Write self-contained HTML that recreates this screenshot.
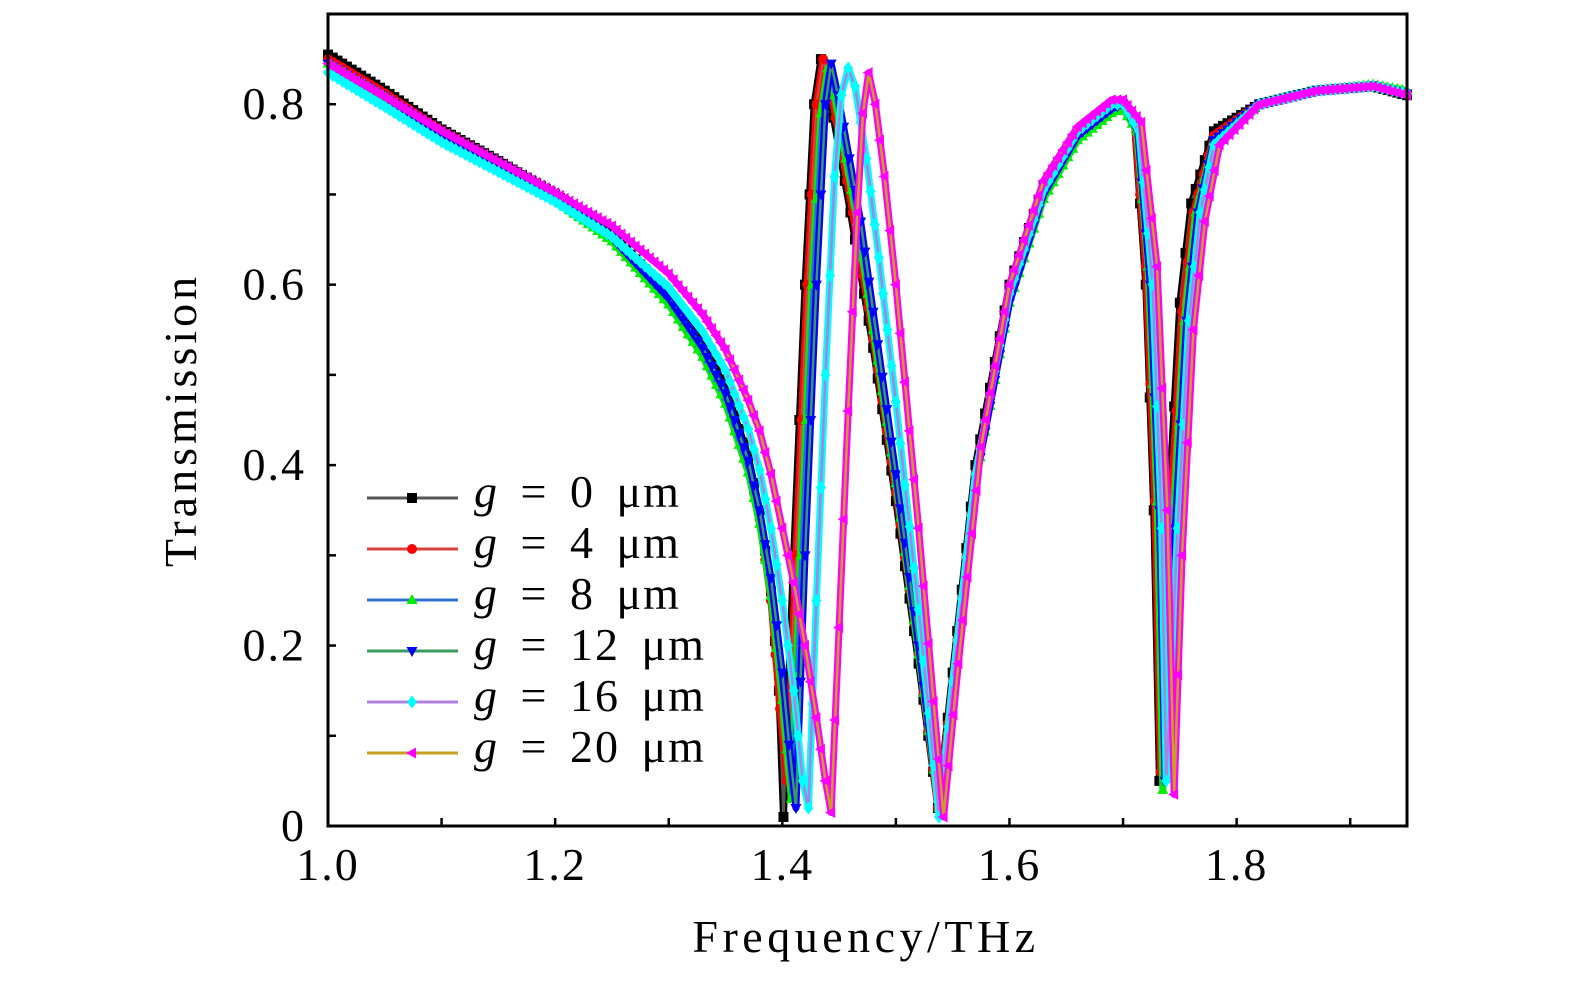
<!DOCTYPE html>
<html><head><meta charset="utf-8"><style>
html,body{margin:0;padding:0;background:#fff;}
svg text{font-family:"Liberation Serif",serif;fill:#000;}
</style></head><body>
<svg id="chart" width="1575" height="980" xmlns="http://www.w3.org/2000/svg">
<g id="series-layer"></g>
<rect x="328" y="14" width="1079" height="812" fill="none" stroke="#000" stroke-width="3"/>
<g id="axes-layer"></g>
<text x="866" y="952" font-size="46" text-anchor="middle" letter-spacing="4.5">Frequency/THz</text>
<text transform="translate(196,420) rotate(-90)" font-size="46" text-anchor="middle" letter-spacing="4">Transmission</text>
<g id="legend"></g>
</svg>
<script>
const xTicks=[1.0,1.2,1.4,1.6,1.8];
const xTickLabels=["1.0","1.2","1.4","1.6","1.8"];
const yTicks=[0,0.2,0.4,0.6,0.8];
const yTickLabels=["0","0.2","0.4","0.6","0.8"];
const seriesNames=["g = 0 μm","g = 4 μm","g = 8 μm","g = 12 μm","g = 16 μm","g = 20 μm"];
const s0=[[1.00,.855],[1.05,.815],[1.10,.772],[1.15,.737],[1.20,.700],[1.25,.655],[1.30,.590],[1.33,.535],[1.35,.485],[1.37,.410],[1.38,.350],[1.39,.260],[1.397,.150],[1.401,.01],[1.41,.30],[1.42,.60],[1.428,.80],[1.434,.85],[1.44,.82],[1.45,.75],[1.46,.68],[1.48,.53],[1.50,.36],[1.52,.18],[1.537,.02],[1.55,.17],[1.57,.40],[1.60,.60],[1.63,.71],[1.66,.77],[1.69,.80],[1.70,.80],[1.71,.78],[1.72,.60],[1.727,.35],[1.732,.05],[1.74,.35],[1.75,.58],[1.76,.69],[1.78,.77],[1.82,.80],[1.87,.815],[1.92,.82],[1.95,.81]];
const s1=[[1.00,.850],[1.05,.812],[1.10,.770],[1.15,.735],[1.20,.698],[1.25,.652],[1.30,.585],[1.33,.528],[1.35,.475],[1.37,.398],[1.38,.340],[1.39,.250],[1.398,.130],[1.404,.05],[1.412,.30],[1.422,.60],[1.430,.80],[1.436,.85],[1.442,.82],[1.452,.75],[1.462,.68],[1.48,.54],[1.50,.37],[1.52,.19],[1.537,.02],[1.55,.16],[1.57,.39],[1.60,.59],[1.63,.70],[1.66,.765],[1.69,.795],[1.70,.80],[1.71,.78],[1.72,.62],[1.728,.36],[1.733,.06],[1.742,.35],[1.752,.57],[1.762,.68],[1.78,.765],[1.82,.80],[1.87,.815],[1.92,.82],[1.95,.812]];
const s2=[[1.00,.845],[1.05,.808],[1.10,.766],[1.15,.731],[1.20,.694],[1.25,.648],[1.30,.578],[1.33,.520],[1.35,.468],[1.37,.392],[1.38,.335],[1.39,.255],[1.40,.140],[1.408,.03],[1.416,.30],[1.426,.60],[1.434,.79],[1.440,.84],[1.446,.81],[1.456,.74],[1.466,.67],[1.48,.55],[1.50,.38],[1.52,.19],[1.538,.02],[1.55,.15],[1.57,.38],[1.60,.58],[1.63,.695],[1.66,.76],[1.69,.79],[1.70,.795],[1.712,.77],[1.722,.62],[1.730,.36],[1.735,.04],[1.744,.33],[1.754,.56],[1.764,.68],[1.78,.76],[1.82,.80],[1.87,.815],[1.92,.822],[1.95,.815]];
const s3=[[1.00,.845],[1.05,.808],[1.10,.767],[1.15,.732],[1.20,.696],[1.25,.652],[1.30,.585],[1.33,.530],[1.35,.480],[1.37,.405],[1.38,.350],[1.39,.275],[1.40,.170],[1.406,.09],[1.412,.02],[1.420,.30],[1.430,.60],[1.438,.80],[1.443,.845],[1.449,.81],[1.459,.74],[1.469,.67],[1.48,.57],[1.50,.39],[1.52,.20],[1.538,.02],[1.55,.15],[1.57,.38],[1.60,.58],[1.63,.70],[1.66,.765],[1.69,.795],[1.70,.80],[1.713,.77],[1.724,.60],[1.732,.35],[1.737,.05],[1.746,.33],[1.756,.56],[1.766,.68],[1.78,.76],[1.82,.80],[1.87,.815],[1.92,.82],[1.95,.812]];
const s4=[[1.00,.835],[1.05,.797],[1.10,.758],[1.15,.725],[1.20,.692],[1.25,.653],[1.30,.597],[1.33,.548],[1.35,.505],[1.37,.440],[1.38,.395],[1.39,.330],[1.40,.250],[1.41,.150],[1.418,.05],[1.423,.02],[1.430,.25],[1.438,.50],[1.446,.72],[1.452,.81],[1.458,.84],[1.464,.82],[1.474,.74],[1.485,.63],[1.50,.47],[1.52,.24],[1.538,.01],[1.55,.16],[1.57,.39],[1.60,.59],[1.63,.705],[1.66,.77],[1.69,.80],[1.70,.80],[1.714,.77],[1.726,.60],[1.734,.33],[1.738,.05],[1.748,.33],[1.758,.56],[1.768,.68],[1.78,.755],[1.82,.80],[1.87,.815],[1.92,.82],[1.95,.812]];
const s5=[[1.00,.845],[1.05,.808],[1.10,.770],[1.15,.736],[1.20,.702],[1.25,.665],[1.30,.612],[1.33,.567],[1.35,.528],[1.37,.472],[1.38,.438],[1.39,.390],[1.40,.330],[1.41,.270],[1.42,.200],[1.43,.120],[1.438,.05],[1.443,.015],[1.450,.22],[1.458,.46],[1.466,.68],[1.471,.79],[1.476,.835],[1.482,.80],[1.490,.72],[1.50,.60],[1.52,.33],[1.542,.01],[1.555,.18],[1.575,.42],[1.60,.60],[1.63,.715],[1.66,.775],[1.69,.805],[1.70,.805],[1.716,.78],[1.730,.62],[1.739,.35],[1.745,.035],[1.752,.30],[1.762,.55],[1.772,.67],[1.785,.755],[1.82,.80],[1.87,.815],[1.92,.82],[1.95,.81]];
const allSeries=[s0,s1,s2,s3,s4,s5];
const lineColors=["#555555","#d94040","#3070d0","#3a9a60","#b080e0","#c8a020"];
const markerColors=["#000000","#ff0000","#00ee00","#0000ff","#00ffff","#ff00ff"];
const markerShapes=["square","circle","up","down","diamond","left"];

const X0=328,X1=1407,Y0=826,Y1=14,XMIN=1.0,XMAX=1.95,YMIN=0,YMAX=0.9;
function xs(v){return X0+(v-XMIN)/(XMAX-XMIN)*(X1-X0);}
function ys(v){return Y0-(v-YMIN)/(YMAX-YMIN)*(Y0-Y1);}
const NS="http://www.w3.org/2000/svg";
function mk(tag,attrs,parent){const e=document.createElementNS(NS,tag);for(const k in attrs)e.setAttribute(k,attrs[k]);parent.appendChild(e);return e;}
function marker(shape,cx,cy,r,color,parent){
  let e;
  if(shape==="square")e=mk("rect",{x:cx-r,y:cy-r,width:2*r,height:2*r,fill:color},parent);
  else if(shape==="circle")e=mk("circle",{cx:cx,cy:cy,r:r,fill:color},parent);
  else{
    let p;
    if(shape==="up")p=[[cx,cy-r*1.2],[cx-r*1.1,cy+r*0.8],[cx+r*1.1,cy+r*0.8]];
    else if(shape==="down")p=[[cx,cy+r*1.2],[cx-r*1.1,cy-r*0.8],[cx+r*1.1,cy-r*0.8]];
    else if(shape==="diamond")p=[[cx,cy-r*1.3],[cx+r,cy],[cx,cy+r*1.3],[cx-r,cy]];
    else p=[[cx-r*1.2,cy],[cx+r*0.8,cy-r*1.1],[cx+r*0.8,cy+r*1.1]];
    e=mk("polygon",{points:p.map(q=>q.join(",")).join(" "),fill:color},parent);
  }
  return e;
}
const sl=document.getElementById("series-layer");
allSeries.forEach((s,i)=>{
  const g=mk("g",{},sl);
  
  
  const px=s.map(p=>[xs(p[0]),ys(p[1])]);
  const pts=px.map(p=>p.join(",")).join(" ");
  const band=mk("polyline",{points:pts,fill:"none",stroke:markerColors[i],"stroke-width":7,"stroke-linejoin":"round"},g);
  
  
  const ln=mk("polyline",{points:pts,fill:"none",stroke:lineColors[i],"stroke-width":2.5},g);
  
  
  // decorative markers along the drawn path (horizontal spacing ~4.7px like the dense sampling)
  for(let k=0;k<px.length-1;k++){
    const a=px[k],b=px[k+1];
    const n=Math.max(1,Math.round((b[0]-a[0])/4.7));
    for(let j=0;j<n;j++){
      const t=j/n;
      const m=marker(markerShapes[i],a[0]+(b[0]-a[0])*t,a[1]+(b[1]-a[1])*t,5,markerColors[i],g);
      
      
    }
  }
  const last=px[px.length-1];
  const m=marker(markerShapes[i],last[0],last[1],5,markerColors[i],g);
  
  
});
const ax=document.getElementById("axes-layer");
for(let v=1.0;v<=1.951;v+=0.1){
  const t=mk("line",{x1:xs(v),x2:xs(v),y1:Y0,y2:Y0-8,stroke:"#000","stroke-width":2.5},ax);
  
  
}
for(let v=0.1;v<=0.851;v+=0.1){
  const t=mk("line",{x1:X0,x2:X0+8,y1:ys(v),y2:ys(v),stroke:"#000","stroke-width":2.5},ax);
  
  
}
xTicks.forEach((v,i)=>{
  const t=mk("text",{x:xs(v),y:880,"font-size":46,"text-anchor":"middle","letter-spacing":"2"},ax);
  t.textContent=xTickLabels[i];
  
  
});
yTicks.forEach((v,i)=>{
  const t=mk("text",{x:306,y:ys(v)+15,"font-size":46,"text-anchor":"end","letter-spacing":"2"},ax);
  t.textContent=yTickLabels[i];
  
  
});
const lg=document.getElementById("legend");
seriesNames.forEach((n,i)=>{
  const y=498+i*51;
  const e=mk("g",{},lg);
  
  
  mk("line",{x1:367,x2:458,y1:y,y2:y,stroke:lineColors[i],"stroke-width":3},e);
  marker(markerShapes[i],412,y,5,markerColors[i],e);
  const t=mk("text",{x:474,y:y+9,"font-size":46,"letter-spacing":"2","word-spacing":"8"},e);
  const parts=n.split(" = ");
  const a=mk("tspan",{"font-style":"italic"},t);a.textContent="g";
  const b=mk("tspan",{},t);b.textContent=" = "+parts[1];
});
</script>
</body></html>
